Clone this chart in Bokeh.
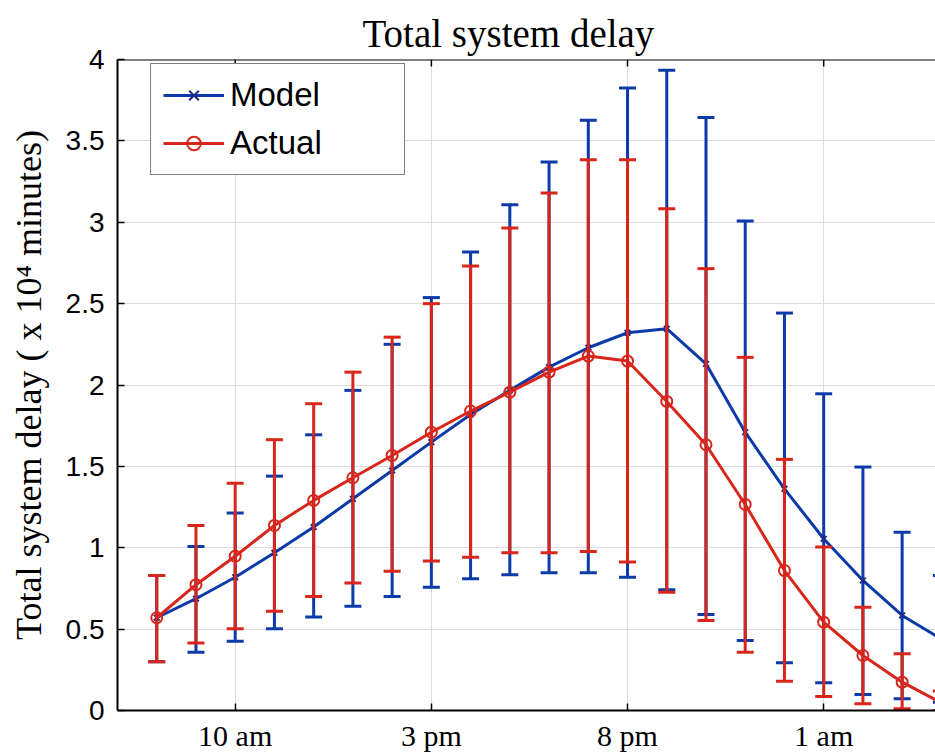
from bokeh.plotting import figure
from bokeh.models import Legend, LegendItem, FixedTicker, Span
from bokeh.embed import file_html
from bokeh.resources import INLINE

# hours since midnight of the first day (8 = 8 am ... 28 = 4 am next day)
hours = [8, 9, 10, 11, 12, 13, 14, 15, 16, 17, 18, 19, 20, 21, 22, 23, 24, 25, 26, 27, 28]

x_tick_values = [10, 15, 20, 25]
x_tick_labels = ["10 am", "3 pm", "8 pm", "1 am"]
y_tick_values = [0.0, 0.5, 1.0, 1.5, 2.0, 2.5, 3.0, 3.5, 4.0]
y_tick_labels = ["0", "0.5", "1", "1.5", "2", "2.5", "3", "3.5", "4"]

model = [0.57, 0.687, 0.819, 0.969, 1.127, 1.301, 1.475, 1.649, 1.819, 1.967, 2.11,
         2.229, 2.321, 2.346, 2.13, 1.71, 1.362, 1.055, 0.799, 0.584, 0.438]
model_upper = [0.83, 1.008, 1.213, 1.44, 1.694, 1.967, 2.25, 2.537, 2.817, 3.108, 3.37,
               3.626, 3.825, 3.934, 3.643, 3.008, 2.442, 1.946, 1.496, 1.096, 0.83]
model_lower = [0.30, 0.358, 0.426, 0.502, 0.574, 0.641, 0.70, 0.758, 0.809, 0.834, 0.846,
               0.846, 0.819, 0.742, 0.59, 0.43, 0.293, 0.17, 0.098, 0.072, 0.05]

actual = [0.57, 0.773, 0.948, 1.137, 1.291, 1.430, 1.567, 1.71, 1.84, 1.956, 2.079,
          2.178, 2.147, 1.899, 1.633, 1.266, 0.86, 0.543, 0.338, 0.174, 0.047]
actual_upper = [0.83, 1.137, 1.397, 1.664, 1.885, 2.079, 2.294, 2.50, 2.731, 2.964, 3.18,
                3.384, 3.384, 3.083, 2.715, 2.17, 1.543, 1.004, 0.635, 0.348, 0.12]
actual_lower = [0.30, 0.414, 0.502, 0.61, 0.70, 0.783, 0.856, 0.918, 0.942, 0.969, 0.969,
                0.977, 0.912, 0.727, 0.553, 0.358, 0.18, 0.086, 0.041, 0.01, 0.0]

BLUE = "#0d3aa9"
BLUE_DARK = "#1c2a86"
RED = "#d8261b"

p = figure(width=935, height=756, x_range=(7, 27.85), y_range=(0, 4),
           output_backend="svg", toolbar_location=None,
           min_border_left=117, min_border_right=0, min_border_top=59, min_border_bottom=46)

p.background_fill_color = "white"
p.border_fill_color = "white"
p.outline_line_color = None

# title
p.title.text = "Total system delay"
p.title.text_font = "Liberation Serif"
p.title.text_font_size = "39px"
p.title.text_font_style = "normal"
p.title.text_color = "black"
p.title.align = "left"
p.title.offset = 245
p.title.standoff = 9

# axes
p.xaxis.ticker = FixedTicker(ticks=x_tick_values)
p.xaxis.major_label_overrides = dict(zip(x_tick_values, x_tick_labels))
p.yaxis.ticker = FixedTicker(ticks=y_tick_values)
p.yaxis.major_label_overrides = dict(zip(y_tick_values, y_tick_labels))

for ax in (p.xaxis, p.yaxis):
    ax.axis_line_color = "black"
    ax.axis_line_width = 2
    ax.major_tick_line_color = "black"
    ax.major_tick_line_width = 1.5
    ax.major_tick_in = 7
    ax.major_tick_out = 0
    ax.minor_tick_line_color = None
    ax.major_label_text_color = "black"

p.xaxis.major_label_text_font = "Liberation Serif"
p.xaxis.major_label_text_font_size = "30px"
p.xaxis.major_label_standoff = 8

p.yaxis.major_label_text_font = "Liberation Sans"
p.yaxis.major_label_text_font_size = "28px"
p.yaxis.major_label_standoff = 13

p.yaxis.axis_label = "Total system delay ( x 10\u2074 minutes)"
p.yaxis.axis_label_text_font = "Liberation Serif"
p.yaxis.axis_label_text_font_size = "36px"
p.yaxis.axis_label_text_font_style = "normal"
p.yaxis.axis_label_text_color = "black"
p.yaxis.axis_label_standoff = 14

p.grid.grid_line_color = "#dcdcdc"
p.grid.grid_line_width = 1

# top border and top ticks (box style)
p.add_layout(Span(location=y_tick_values[-1], dimension="width", line_color="black", line_width=2))
p.segment(x0=x_tick_values, y0=[y_tick_values[-1]] * len(x_tick_values),
          x1=x_tick_values, y1=[y_tick_values[-1] - 0.043] * len(x_tick_values),
          line_color="black", line_width=1.5)

# Model series
p.segment(x0=hours, y0=model_lower, x1=hours, y1=model_upper, line_color=BLUE, line_width=3)
p.scatter(hours, model_upper, marker="dash", size=17, line_color=BLUE, line_width=3)
p.scatter(hours, model_lower, marker="dash", size=17, line_color=BLUE, line_width=3)
m_line = p.line(hours, model, line_color=BLUE, line_width=3)
m_mark = p.scatter(hours, model, marker="x", size=8, line_color=BLUE_DARK, line_width=2)

# Actual series
p.segment(x0=hours, y0=actual_lower, x1=hours, y1=actual_upper, line_color=RED, line_width=3)
p.scatter(hours, actual_upper, marker="dash", size=17, line_color=RED, line_width=3)
p.scatter(hours, actual_lower, marker="dash", size=17, line_color=RED, line_width=3)
a_line = p.line(hours, actual, line_color=RED, line_width=3)
a_mark = p.scatter(hours, actual, marker="circle", size=11, line_color=RED,
                   fill_color=None, line_width=2)

legend = Legend(items=[LegendItem(label="Model", renderers=[m_line, m_mark]),
                       LegendItem(label="Actual", renderers=[a_line, a_mark])],
                location=(33, 535), margin=0)
legend.border_line_color = "black"
legend.border_line_width = 1.5
legend.background_fill_color = "white"
legend.background_fill_alpha = 1.0
legend.padding = 12
legend.spacing = 10
legend.glyph_width = 61
legend.glyph_height = 34
legend.label_height = 34
legend.label_width = 162
legend.label_standoff = 6
legend.label_text_font = "Liberation Sans"
legend.label_text_font_size = "33px"
legend.label_text_color = "black"
p.add_layout(legend, "center")

open("out.html", "w").write(file_html(p, INLINE))
